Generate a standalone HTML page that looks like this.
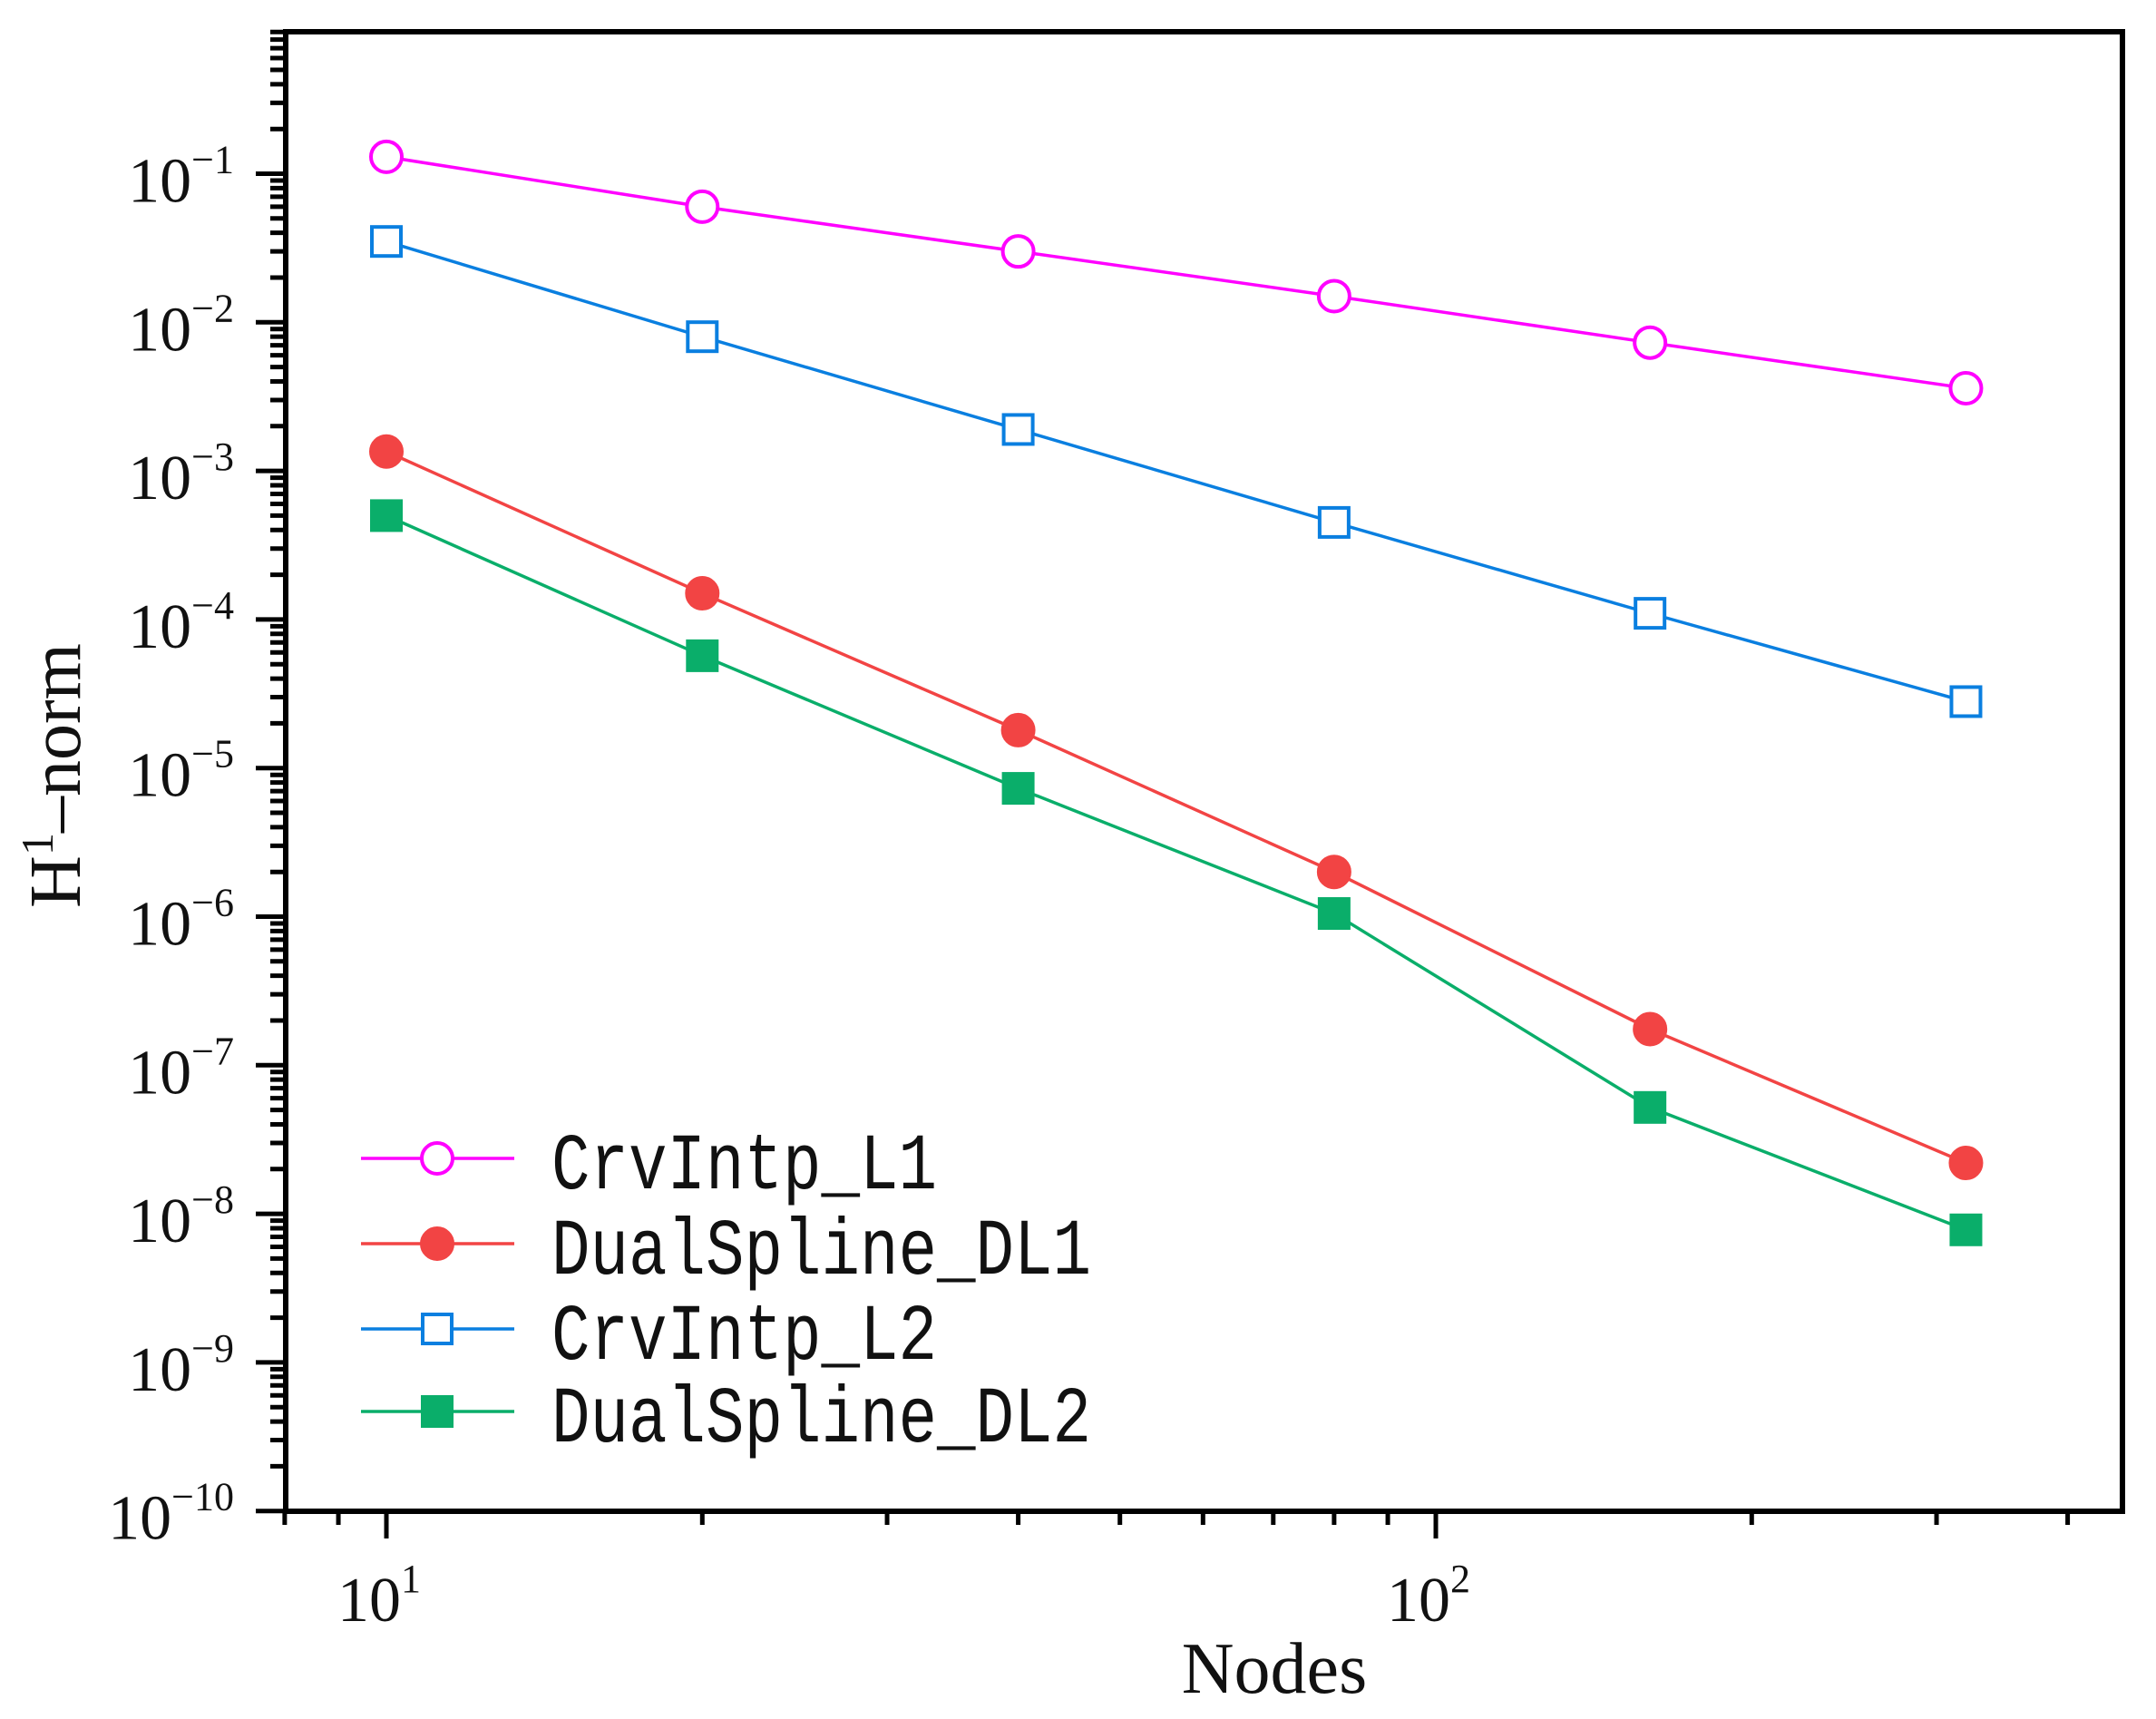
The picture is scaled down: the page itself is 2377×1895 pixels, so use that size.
<!DOCTYPE html>
<html><head><meta charset="utf-8"><style>
html,body{margin:0;padding:0;background:#fff;}
svg{display:block;}
text{font-family:"Liberation Serif",serif;fill:#111;}
.leg{font-family:"Liberation Mono",monospace;}
</style></head><body>
<svg id="chart" width="2377" height="1895" viewBox="0 0 2377 1895" xmlns="http://www.w3.org/2000/svg"></svg>
<script>
const xNodes = [10, 20, 40, 80, 160, 320];
const seriesNames = ["CrvIntp_L1", "DualSpline_DL1", "CrvIntp_L2", "DualSpline_DL2"];
const crvL1 = [0.13, 0.06, 0.03, 0.015, 0.0073, 0.0036];
const dualDL1 = [1.35e-3, 1.5e-4, 1.8e-5, 2.0e-6, 1.75e-7, 2.2e-8];
const crvL2 = [0.035, 0.008, 0.0019, 0.00045, 0.00011, 2.8e-5];
const dualDL2 = [5.0e-4, 5.7e-5, 7.3e-6, 1.05e-6, 5.2e-8, 7.8e-9];
const yTickExps = [-1, -2, -3, -4, -5, -6, -7, -8, -9, -10];
const xTickExps = [1, 2];

const NS = "http://www.w3.org/2000/svg";
const svg = document.getElementById("chart");
const L = 315, R = 2340, T = 35, B = 1666;
const X10 = 426, XDEC = 1157;
const Ym1 = 191.5, YDEC = 163.8;
function xs(v){ return X10 + (Math.log10(v) - 1) * XDEC; }
function ys(v){ return Ym1 + (-1 - Math.log10(v)) * YDEC; }
function mk(tag, attrs, parent){
  const e = document.createElementNS(NS, tag);
  for (const k in attrs) e.setAttribute(k, attrs[k]);
  (parent || svg).appendChild(e);
  return e;
}

const frame = mk("rect", {x:L, y:T, width:R-L, height:B-T, fill:"none", stroke:"#000", "stroke-width":6});



const yAxis = mk("g", {});


for (let e = -10; e <= 0; e++) {
  for (let m = 1; m <= 9; m++) {
    const v = m * Math.pow(10, e);
    const y = ys(v);
    if (y < T - 1 || y > B + 1) continue;
    const len = m === 1 ? 33 : 17;
    mk("line", {x1:L, x2:L-len, y1:y, y2:y, stroke:"#000", "stroke-width":5}, yAxis);
  }
}
yTickExps.forEach(ex => {
  const y = ys(Math.pow(10, ex));
  const t = mk("text", {x:258, y:y+31, "text-anchor":"end", "font-size":70}, yAxis);
  
  
  const a = mk("tspan", {}, t); a.textContent = "10";
  const b = mk("tspan", {dy:-32, "font-size":44}, t); b.textContent = "\u2212" + Math.abs(ex);
});

const xAxis = mk("g", {});


for (let e = 0; e <= 2; e++) {
  for (let m = 1; m <= 9; m++) {
    const v = m * Math.pow(10, e);
    const x = xs(v);
    if (x < L - 3 || x > R + 1) continue;
    const len = m === 1 ? 30 : 15;
    mk("line", {x1:x, x2:x, y1:B, y2:B+len, stroke:"#000", "stroke-width":5}, xAxis);
  }
}
xTickExps.forEach(ex => {
  const x = xs(Math.pow(10, ex));
  const t = mk("text", {x:x-8, y:1787, "text-anchor":"middle", "font-size":70}, xAxis);
  
  
  const a = mk("tspan", {}, t); a.textContent = "10";
  const b = mk("tspan", {dy:-32, "font-size":44}, t); b.textContent = String(ex);
});

const xt = mk("text", {x:1405, y:1866, "text-anchor":"middle", "font-size":80});
xt.textContent = "Nodes";


const yt = mk("text", {x:0, y:0, "text-anchor":"middle", "font-size":80, transform:"translate(88,855) rotate(-90)"});


const y1 = mk("tspan", {}, yt); y1.textContent = "H";
const y2 = mk("tspan", {dy:-30, "font-size":50}, yt); y2.textContent = "1";
const y3 = mk("tspan", {dy:30}, yt); y3.textContent = "\u2013norm";

const seriesData = [crvL1, dualDL1, crvL2, dualDL2];
const colors = ["#ff00ff", "#f24444", "#0a7fe0", "#0aae6a"];
const shapes = ["circle-open", "circle-filled", "square-open", "square-filled"];
const names = ["series-crvintp-l1", "series-dualspline-dl1", "series-crvintp-l2", "series-dualspline-dl2"];
function marker(shape, x, y, col, g){
  if (shape.startsWith("circle")) {
    return mk("circle", {cx:x, cy:y, r:17, fill: shape.endsWith("open") ? "#fff" : col, stroke:col, "stroke-width":4}, g);
  }
  return mk("rect", {x:x-16, y:y-16, width:32, height:32, fill: shape.endsWith("open") ? "#fff" : col, stroke:col, "stroke-width":4}, g);
}
seriesData.forEach((arr, i) => {
  const g = mk("g", {});
  
  
  const pts = arr.map((v, j) => xs(xNodes[j]) + "," + ys(v)).join(" ");
  mk("polyline", {points:pts, fill:"none", stroke:colors[i], "stroke-width":3.5}, g);
  arr.forEach((v, j) => {
    const m = marker(shapes[i], xs(xNodes[j]), ys(v), colors[i], g);
    
    
  });
});

const legend = mk("g", {});


const legY = [1277, 1371, 1465, 1556];
seriesNames.forEach((n, i) => {
  const g = mk("g", {}, legend);
  
  
  mk("line", {x1:398, x2:567, y1:legY[i], y2:legY[i], stroke:colors[i], "stroke-width":3.5}, g);
  marker(shapes[i], 482, legY[i], colors[i], g);
  const t = mk("text", {x:608, y:legY[i]+33, "font-size":88, class:"leg", textLength:n.length*42.5, lengthAdjust:"spacingAndGlyphs"}, g);
  t.textContent = n;
});
</script>
</body></html>
